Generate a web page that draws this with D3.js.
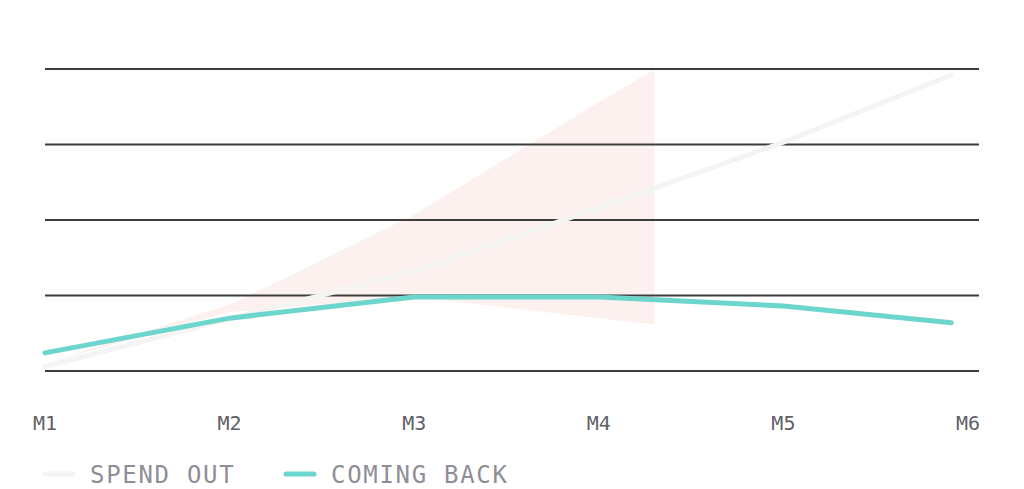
<!DOCTYPE html>
<html lang="en">
<head>
    <meta charset="utf-8">
    <title>Spend out vs coming back</title>
    <script type="text/javascript" src="https://d3js.org/d3.v7.min.js"></script>
    <style type="text/css">
        body { margin: 0; background: #fff; }
        text { font-family: "DejaVu Sans Mono", monospace; }
    </style>
</head>
<body>
<svg width="1024" height="489"></svg>
<script type="text/javascript">

    // data
    const months = ["M1", "M2", "M3", "M4", "M5", "M6"];
    const lineX = [0, 1, 2, 3, 4, 4.91];          // last point stops a bit short of M6
    const spendOut = [6, 69, 132, 216, 303, 392];
    const comingBack = [24, 70, 98, 98, 86, 64];
    const shadeX = [0, 1, 1.3, 2, 3, 3.3];
    const shadeTop = [10, 88, 123, 207, 356, 399];
    const shadeBottom = [10, 78, 84, 98, 70, 62];
    const yTicks = [0, 100, 200, 300, 400];

    const svg = d3.select("svg");

    const x = d3.scaleLinear().domain([0, 5]).range([45, 968]);
    const y = d3.scaleLinear().domain([0, 400]).range([371, 69]);
    const gridRight = 979;

    // shaded band (under the gridlines)
    const band = shadeX.map((d, i) => ({x: d, y0: shadeBottom[i], y1: shadeTop[i]}));
    svg.append("path")
        .datum(band)
        .attr("fill", "#fcf1ee")
        .attr("d", d3.area()
            .x(d => x(d.x))
            .y0(d => y(d.y0))
            .y1(d => y(d.y1)));

    // gridlines
    svg.append("g")
        .selectAll("line")
        .data(yTicks)
        .join("line")
        .attr("x1", x(0))
        .attr("x2", gridRight)
        .attr("y1", d => y(d))
        .attr("y2", d => y(d))
        .attr("stroke", "#3d3d3f")
        .attr("stroke-width", 2);

    const line = d3.line()
        .x(d => x(d.x))
        .y(d => y(d.v));

    const series = [
        {name: "SPEND OUT", color: "#f4f4f2", values: spendOut},
        {name: "COMING BACK", color: "#6dd6cc", values: comingBack}
    ];

    svg.append("g")
        .selectAll("path")
        .data(series)
        .join("path")
        .attr("fill", "none")
        .attr("stroke", d => d.color)
        .attr("stroke-width", 5)
        .attr("stroke-linecap", "round")
        .attr("stroke-linejoin", "round")
        .attr("d", d => line(d.values.map((v, i) => ({x: lineX[i], v: v}))));

    // x axis labels
    svg.append("g")
        .selectAll("text")
        .data(months)
        .join("text")
        .attr("x", (d, i) => x(i))
        .attr("y", 430)
        .attr("text-anchor", "middle")
        .attr("fill", "#5f6067")
        .style("font-size", "20px")
        .text(d => d);

    // legend
    const legendX = [45, 286];
    const legend = svg.append("g")
        .selectAll("g")
        .data(series)
        .join("g")
        .attr("transform", (d, i) => "translate(" + legendX[i] + ",474)");

    legend.append("line")
        .attr("x1", 0)
        .attr("x2", 28)
        .attr("stroke", d => d.color)
        .attr("stroke-width", 5)
        .attr("stroke-linecap", "round");

    legend.append("text")
        .attr("x", 45)
        .attr("y", 9)
        .attr("fill", "#8e8f96")
        .style("font-size", "24px")
        .style("letter-spacing", "1.7px")
        .text(d => d.name);

</script>
</body>
</html>
